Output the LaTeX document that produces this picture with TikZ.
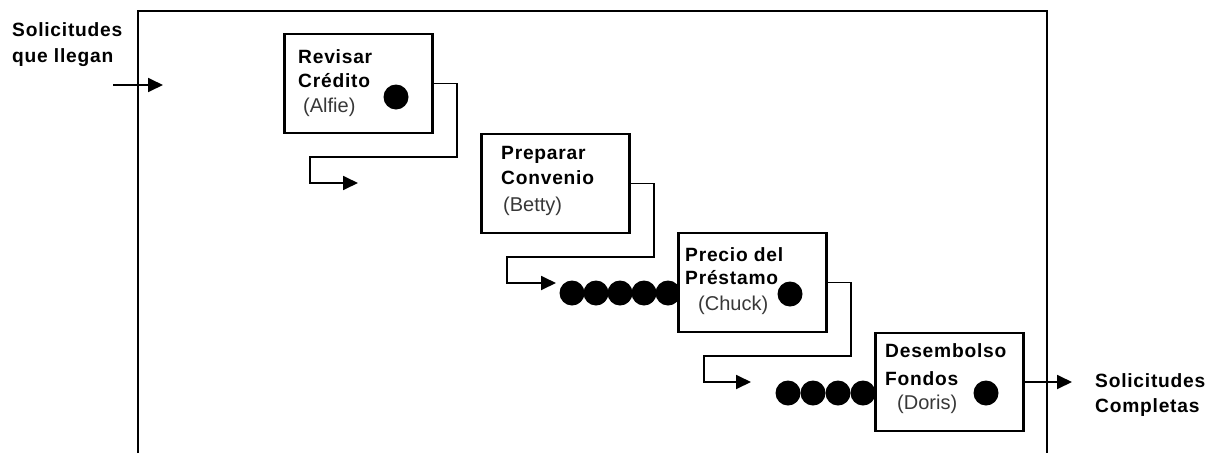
\documentclass[tikz,border=0pt]{standalone}
\usepackage{fontspec}
\setmainfont{Liberation Sans}
\newfontfamily\spacedfont{Liberation Sans}[LetterSpace=4]
\usetikzlibrary{arrows.meta}
\definecolor{namegray}{gray}{0.22}
\begin{document}
\begin{tikzpicture}[x=1pt,y=-1pt,
  frameline/.style={line width=2.6pt},
  procbox/.style={draw, line width=2.2pt, fill=white, minimum width=148pt, minimum height=99pt, inner sep=0pt},
  flow/.style={line width=1.8pt, -{Triangle[length=15pt,width=14pt]}},
  token/.style={circle, fill=black, minimum size=25pt, inner sep=0pt},
  title/.style={anchor=base west, inner sep=0pt, font=\spacedfont\bfseries\fontsize{19.2}{24}\selectfont},
  who/.style={anchor=base west, inner sep=0pt, text=namegray, font=\fontsize{20}{24}\selectfont}]
\useasboundingbox (0,0) rectangle (1218,453);
% frame
\coordinate (fbl) at (138,453);
\coordinate (ftl) at (138,11);
\coordinate (ftr) at (1047,11);
\coordinate (fbr) at (1047,453);
\draw[frameline] (fbl) -- (ftl) -- (ftr) -- (fbr);
% outside labels
\node[title] (inA) at (12,36) {Solicitudes};
\node[title] (inB) at (12,62) {que llegan};
\node[title] (outA) at (1095,387) {Solicitudes};
\node[title] (outB) at (1095,412) {Completas};
% queues
\node[token] (q1) at (572,293) {};
\node[token] (q2) at (596,293) {};
\node[token] (q3) at (620,293) {};
\node[token] (q4) at (644,293) {};
\node[token] (q5) at (668,293) {};
\node[token] (r1) at (788,393) {};
\node[token] (r2) at (813,393) {};
\node[token] (r3) at (838,393) {};
\node[token] (r4) at (863,393) {};
% boxes
\node[procbox] (b1) at (358.5,83.5) {};
\node[procbox] (b2) at (555.5,183.5) {};
\node[procbox] (b3) at (752.5,282.5) {};
\node[procbox, minimum height=98pt] (b4) at (949.5,382) {};
% box texts
\node[title] (b1a) at (298,63) {Revisar};
\node[title] (b1b) at (298,87) {Crédito};
\node[who] (b1c) at (303,112) {(Alfie)};
\node[title] (b2a) at (501,159) {Preparar};
\node[title] (b2b) at (501,184) {Convenio};
\node[who] (b2c) at (503,211) {(Betty)};
\node[title] (b3a) at (685,261) {Precio del};
\node[title] (b3b) at (685,284) {Préstamo};
\node[who] (b3c) at (698,310) {(Chuck)};
\node[title] (b4a) at (885,357) {Desembolso};
\node[title] (b4b) at (885,385) {Fondos};
\node[who] (b4c) at (897,409) {(Doris)};
% in-service tokens
\node[token] (s1) at (396,97) {};
\node[token] (s3) at (790,294) {};
\node[token] (s4) at (986,393) {};
% connectors
\coordinate (i0) at (113,85);
\coordinate (i1) at (163,85);
\draw[flow] (i0) -- (i1);
\coordinate (t1a) at (457,157);
\coordinate (t1b) at (310,183);
\coordinate (e1) at (358,183);
\draw[flow] (b1.east) -| (t1a) -| (t1b) -- (e1);
\coordinate (t2a) at (654,257);
\coordinate (t2b) at (507,283);
\coordinate (e2) at (556,283);
\draw[flow] (b2.east) -| (t2a) -| (t2b) -- (e2);
\coordinate (t3a) at (851,356);
\coordinate (t3b) at (704,382);
\coordinate (e3) at (751,382);
\draw[flow] (b3.east) -| (t3a) -| (t3b) -- (e3);
\coordinate (o1) at (1072,382);
\draw[flow] (b4.east) -- (o1);
\end{tikzpicture}
\end{document}
